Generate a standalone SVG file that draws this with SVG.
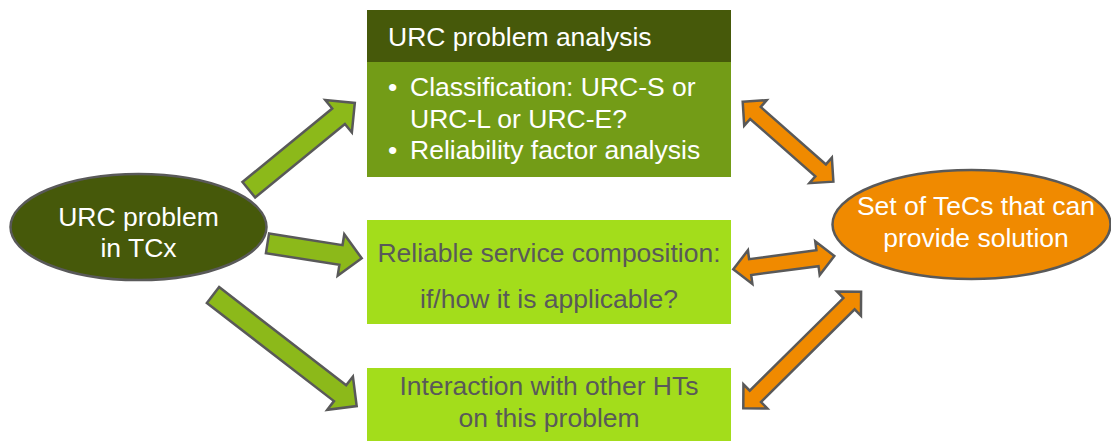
<svg xmlns="http://www.w3.org/2000/svg" width="1111" height="441" viewBox="0 0 1111 441">
<style>
text{font-family:"Liberation Sans",Arial,sans-serif;font-size:26.5px}
.w{fill:#ffffff}
.g{fill:#595959}
.c{text-anchor:middle}
.ga{fill:#8cb91a;stroke:#595959;stroke-width:2.5;stroke-linejoin:miter}
.oa{fill:#f08a00;stroke:#595959;stroke-width:2.5;stroke-linejoin:miter}
</style>
<rect width="1111" height="441" fill="#ffffff"/>
<g id="node-problem">
<ellipse cx="138.5" cy="227" rx="128" ry="53" fill="#46590a" stroke="#595959" stroke-width="2.5"/>
<text class="w c" x="138.5" y="226">URC problem</text>
<text class="w c" x="138.5" y="257">in TCx</text>
</g>
<g id="node-analysis">
<rect x="367" y="10" width="364" height="52" fill="#46590a"/>
<rect x="367" y="62" width="364" height="115" fill="#739c17"/>
<text class="w" x="388" y="46">URC problem analysis</text>
<text class="w" x="388" y="96">•</text>
<text class="w" x="410" y="96">Classification: URC-S or</text>
<text class="w" x="410" y="128">URC-L or URC-E?</text>
<text class="w" x="388" y="159">•</text>
<text class="w" x="410" y="159">Reliability factor analysis</text>
</g>
<g id="node-composition">
<rect x="367" y="220" width="364" height="104" fill="#a3dd1b"/>
<text class="g c" x="549" y="261.5">Reliable service composition:</text>
<text class="g c" x="549" y="308">if/how it is applicable?</text>
</g>
<g id="node-interaction">
<rect x="367" y="368" width="364" height="73" fill="#a3dd1b"/>
<text class="g c" x="549" y="395">Interaction with other HTs</text>
<text class="g c" x="549" y="427">on this problem</text>
</g>
<g id="node-tecs">
<ellipse cx="971.5" cy="224.5" rx="139" ry="54.5" fill="#f08a00" stroke="#595959" stroke-width="2.5"/>
<text class="w c" x="976" y="215">Set of TeCs that can</text>
<text class="w c" x="976" y="247">provide solution</text>
</g>
<g id="connectors">
<path class="ga" transform="translate(248.8,189.7) rotate(-39.3)" d="M0,-10 H116 V-21 L137,0 L116,21 V10 H0 Z"/>
<path class="ga" transform="translate(267.5,243.3) rotate(9.05)" d="M0,-10 H74.4 V-21 L95.4,0 L74.4,21 V10 H0 Z"/>
<path class="ga" transform="translate(213,295) rotate(37.7)" d="M0,-10 H160.6 V-21 L181.6,0 L160.6,21 V10 H0 Z"/>
<path class="oa" transform="translate(742.7,101.7) rotate(41.4)" d="M0,0 L17,-17 V-8 H103.9 V-17 L120.9,0 L103.9,17 V8 H17 V17 Z"/>
<path class="oa" transform="translate(733.3,269.3) rotate(-7.5)" d="M0,0 L17,-17 V-8 H84.9 V-17 L101.9,0 L84.9,17 V8 H17 V17 Z"/>
<path class="oa" transform="translate(743.3,408.3) rotate(-44.7)" d="M0,0 L17,-17 V-8 H148.7 V-17 L165.7,0 L148.7,17 V8 H17 V17 Z"/>
</g>
</svg>
